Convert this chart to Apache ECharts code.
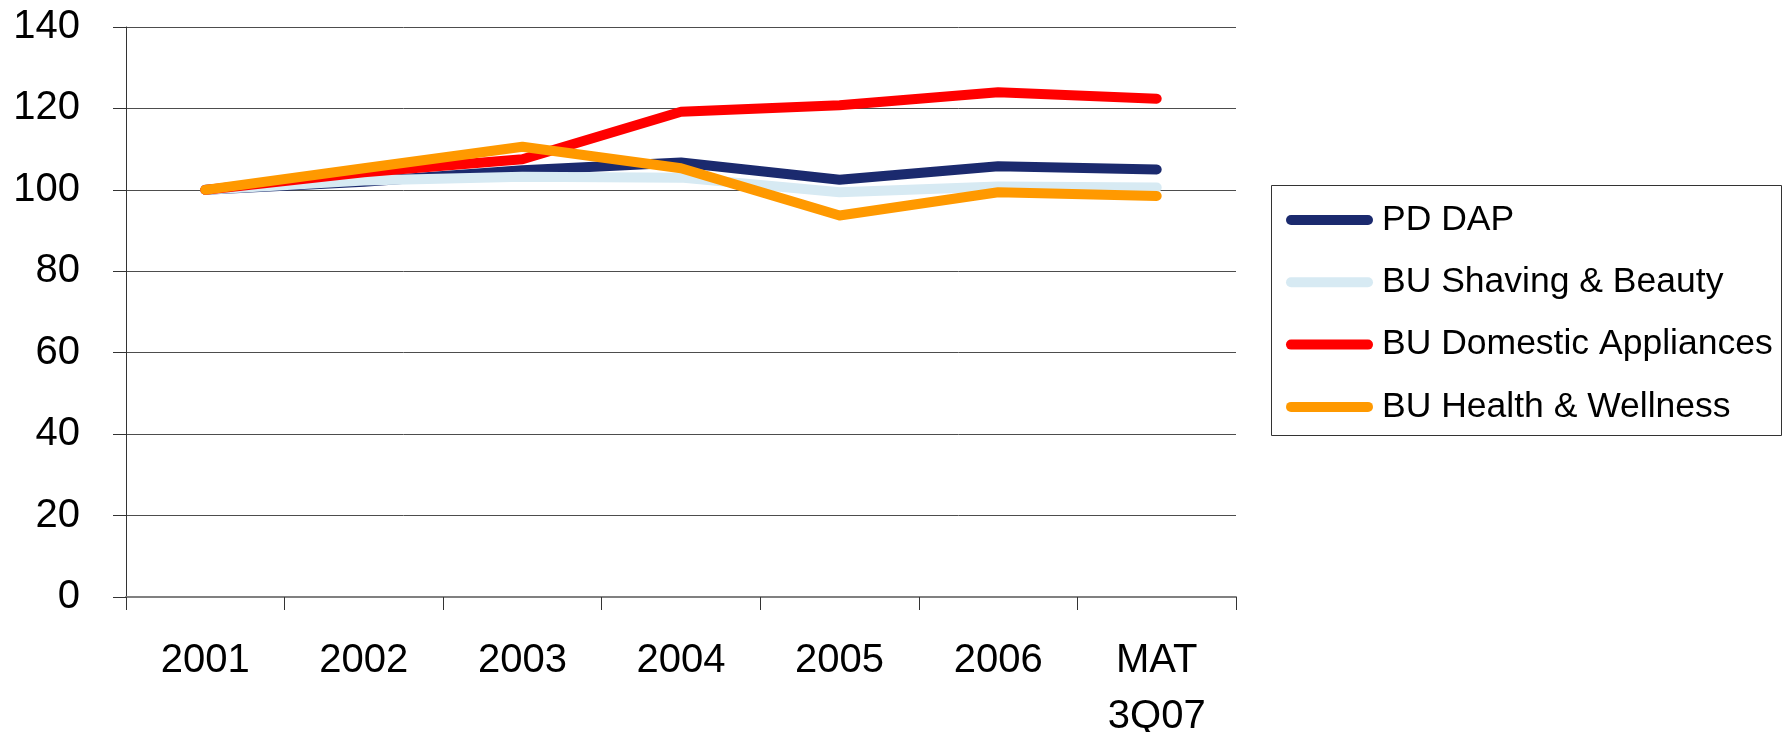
<!DOCTYPE html>
<html>
<head>
<meta charset="utf-8">
<title>Sales index by business unit</title>
<script src="https://cdn.jsdelivr.net/npm/echarts@6/dist/echarts.min.js"></script>
<style>
  html, body { margin: 0; padding: 0; background: #ffffff; }
  #chart { width: 1787px; height: 732px; }
</style>
</head>
<body>
<div id="chart"></div>
<script>
// Categories along the x axis
const categories = ['2001', '2002', '2003', '2004', '2005', '2006', 'MAT\n3Q07'];

// Index values (2001 = 100)
const pdDap = [100, 102, 104.8, 106.7, 102.5, 105.8, 105];
const shavingBeauty = [100, 102.3, 103.2, 103, 99.4, 100.8, 100.6];
const domesticAppliances = [100, 104.3, 107.5, 119.2, 120.8, 124, 122.4];
const healthWellness = [100, 105.3, 110.6, 105.3, 93.7, 99.4, 98.5];

// Series names as shown in the legend
const seriesNames = ['PD DAP', 'BU Shaving & Beauty', 'BU Domestic Appliances', 'BU Health & Wellness'];
const seriesColors = ['#1b2a6e', '#d7eaf3', '#ff0000', '#ff9900'];
const seriesData = [pdDap, shavingBeauty, domesticAppliances, healthWellness];

const FONT = '"Liberation Sans", Arial, sans-serif';

const chart = echarts.init(document.getElementById('chart'), null, { renderer: 'canvas' });

// Rounded bar used as the legend key
const capsule = 'path://M5 0H82A5 5 0 0 1 82 10H5A5 5 0 0 1 5 0Z';

chart.setOption({
  animation: false,
  backgroundColor: '#ffffff',
  grid: { left: 126, right: 551, top: 27, bottom: 135, outerBoundsMode: 'none', containLabel: false },
  xAxis: {
    type: 'category',
    data: categories,
    boundaryGap: true,
    axisLine: { show: true, lineStyle: { color: '#808080', width: 2 } },
    axisTick: { show: true, length: 13, lineStyle: { color: '#333333', width: 1 } },
    axisLabel: {
      margin: 36,
      color: '#000000',
      fontFamily: FONT,
      fontSize: 40,
      lineHeight: 56,
      interval: 0
    },
    splitLine: { show: false }
  },
  yAxis: {
    type: 'value',
    min: 0,
    max: 140,
    interval: 20,
    axisLine: { show: true, lineStyle: { color: '#333333', width: 1 } },
    axisTick: { show: true, length: 13, lineStyle: { color: '#333333', width: 1 } },
    axisLabel: {
      margin: 46,
      color: '#000000',
      fontFamily: FONT,
      fontSize: 40
    },
    splitLine: { show: true, lineStyle: { color: '#4d4d4d', width: 1 } }
  },
  legend: {
    orient: 'vertical',
    left: 1281,
    top: 195,
    itemWidth: 87,
    itemHeight: 10,
    itemGap: 22.3,
    icon: capsule,
    textStyle: {
      color: '#000000',
      fontFamily: FONT,
      fontSize: 35.5,
      lineHeight: 40,
      padding: [0, 0, 0, 4]
    },
    data: seriesNames.map((n, i) => ({ name: n, itemStyle: { color: seriesColors[i] } }))
  },
  graphic: [{
    type: 'rect',
    shape: { x: 1271.5, y: 185.5, width: 510, height: 250 },
    style: { fill: 'none', stroke: '#333333', lineWidth: 1 },
    z: 1
  }],
  series: seriesNames.map((n, i) => ({
    name: n,
    type: 'line',
    data: seriesData[i],
    color: seriesColors[i],
    symbol: 'none',
    showSymbol: false,
    lineStyle: { color: seriesColors[i], width: 10, cap: 'round', join: 'round' },
    itemStyle: { color: seriesColors[i] },
    z: 2 + i
  }))
});
</script>
</body>
</html>
